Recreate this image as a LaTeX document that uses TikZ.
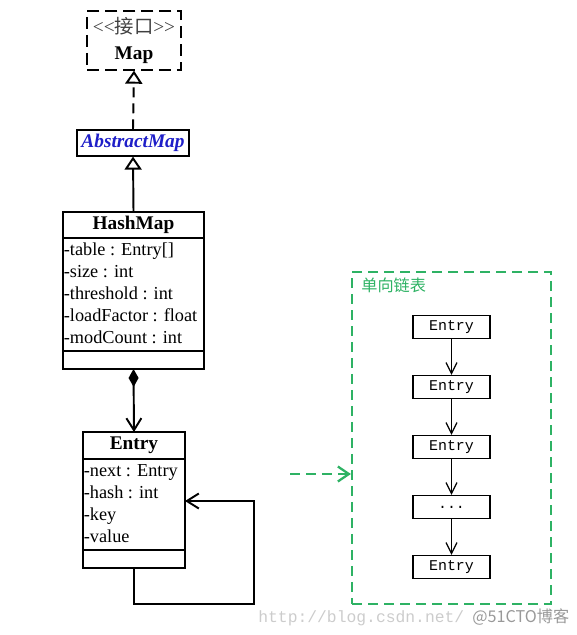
\documentclass[tikz,border=0pt]{standalone}
\usepackage{fontspec}
\setmainfont{Liberation Serif}
\setmonofont{Liberation Mono}
\newfontfamily\cjk{Noto Sans CJK SC}
\usetikzlibrary{arrows.meta,positioning}
\definecolor{listgreen}{RGB}{46,178,100}
\definecolor{absblue}{RGB}{30,30,200}

\tikzset{
	umlpart/.style={draw, line width=1.1pt, inner sep=0pt, outer sep=0pt},
	inherit/.style={-{Triangle[open,length=0.26cm,width=0.34cm]}},
	openhead/.style={-{Straight Barb[length=0.24cm,width=0.3cm]}},
	attr/.style={anchor=base west, inner sep=0pt, font=\fontsize{10.4}{12}\selectfont},
	entrybox/.style={draw, line width=0.7pt, minimum width=1.54cm, minimum height=0.46cm, inner sep=0pt, font=\ttfamily\fontsize{8.5}{9}\selectfont},
}

\begin{document}
\begin{tikzpicture}[x=0.02cm, y=-0.02cm]
		\useasboundingbox (0,0) rectangle (577,635);
		\node (map) at (134,40.5) [draw, dash pattern=on 0.24cm off 0.12cm, line width=1.1pt, minimum width=1.88cm, minimum height=1.06cm, align=center, font=\fontsize{11}{15}\selectfont] {{\color{darkgray}<\kern0pt<{\cjk 接口}>\kern0pt>}\\\textbf{Map}};
		\node (abstract) at (133,143) [draw, line width=0.7pt, minimum width=2.24cm, minimum height=0.52cm, inner sep=0pt, text=absblue, font=\fontsize{11}{13}\selectfont\bfseries\itshape] {AbstractMap};
		\draw[inherit, dash pattern=on 0.2cm off 0.12cm, line width=1.1pt] (abstract.north) -- (map.south);

		\node (hmTitle) at (133.5,225) [umlpart, minimum width=2.82cm, minimum height=0.52cm, font=\fontsize{11}{13}\selectfont\bfseries] {HashMap};
		\node (hmAttr) [umlpart, below=0pt of hmTitle, minimum width=2.82cm, minimum height=2.26cm] {};
		\node (hmOps) [umlpart, below=0pt of hmAttr, minimum width=2.82cm, minimum height=0.36cm] {};
		\foreach \txt [count=\i] in {-table : Entry[], -size : int, -threshold : int, -loadFactor : float, -modCount : int}
			\node[attr] (hmA\i) at (63.5,{233.5+22*\i}) {\txt};
		\draw[inherit, line width=1.1pt] (hmTitle.north) -- (abstract.south);

		\node (enTitle) at (134,445.5) [umlpart, minimum width=2.04cm, minimum height=0.54cm, font=\fontsize{11}{13}\selectfont\bfseries] {Entry};
		\node (enAttr) [umlpart, below=0pt of enTitle, minimum width=2.04cm, minimum height=1.82cm] {};
		\node (enOps) [umlpart, below=0pt of enAttr, minimum width=2.04cm, minimum height=0.36cm] {};
		\foreach \txt [count=\i] in {-next : Entry, -hash : int, -key, -value}
			\node[attr] (enA\i) at (83.5,{454.5+22*\i}) {\txt};
		\draw[line width=1.1pt, {Diamond[length=0.36cm,width=0.2cm]}-{Straight Barb[length=0.24cm,width=0.3cm]}] (hmOps.south) -- (enTitle.north);

		\coordinate (loopA) at (254,604);
		\coordinate (loopB) at (254,501);
		\draw[openhead, line width=1.1pt] (enOps.south) |- (loopA) -- (loopB) -- (enAttr.east |- loopB);

		\node (listBox) at (451.5,438) [draw=listgreen, dash pattern=on 0.2cm off 0.12cm, line width=1.3pt, minimum width=3.98cm, minimum height=6.64cm] {};
		\node (listLabel) at (361,285) [anchor=west, inner sep=0pt, text=listgreen, font=\cjk\fontsize{9.2}{10}\selectfont] {单向链表};
		\coordinate (listFrom) at (290,474);
		\draw[listgreen, line width=1.3pt, dash pattern=on 0.2cm off 0.12cm, -{Straight Barb[length=0.22cm,width=0.3cm]}] (listFrom) -- (listBox.west |- listFrom);

		\foreach \name/\y/\txt in {e1/327/Entry, e2/387/Entry, e3/447/Entry, e4/507/{.{}.{}.}, e5/567/Entry}
			\node[entrybox] (\name) at (451.5,\y) {\txt};
		\foreach \a/\b in {e1/e2, e2/e3, e3/e4, e4/e5}
			\draw[line width=0.7pt, -{Straight Barb[length=0.22cm,width=0.22cm]}] (\a) -- (\b);

		\node (wmUrl) at (258,618) [anchor=west, inner sep=0pt, text=black!20, font=\ttfamily\fontsize{9.3}{12}\selectfont] {http://blog.csdn.net/};
		\node (wmSite) at (472,617) [anchor=west, inner sep=0pt, text=black!40, font=\cjk\fontsize{9.2}{10}\selectfont] {@51CTO博客};
	\end{tikzpicture}
\end{document}
